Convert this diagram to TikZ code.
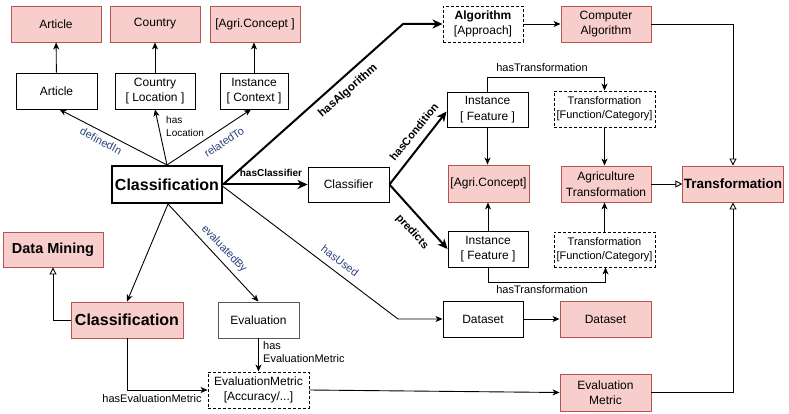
\documentclass[tikz,border=0pt]{standalone}
\usepackage{fontspec}
\setmainfont{Liberation Sans}
\usetikzlibrary{arrows.meta}
\definecolor{rfill}{HTML}{F8CECC}
\definecolor{rdraw}{HTML}{B85450}
\definecolor{lblue}{RGB}{45,65,125}
\begin{document}
\begin{tikzpicture}[x=1pt,y=-1pt,
 box/.style={draw=black, line width=0.9pt, inner sep=1pt, align=center, font=\fontsize{12}{15.5}\selectfont},
 wbox/.style={box, fill=white},
 rbox/.style={box, fill=rfill, draw=rdraw},
 dbox/.style={box, fill=white, dash pattern=on 3pt off 2pt},
 sz/.style 2 args={minimum width=#1pt, minimum height=#2pt},
 conn/.style={draw, line width=0.9pt, -{Stealth[length=7pt,width=6pt,inset=2pt]}},
 thk/.style={draw, line width=2pt, -{Stealth[length=10pt,width=9pt,inset=3pt]}},
 gen/.style={draw, line width=0.9pt, -{Triangle[open,length=7pt,width=7pt]}},
 plain/.style={draw, line width=0.9pt},
 blbl/.style={text=lblue, font=\fontsize{11}{13}\selectfont, inner sep=0pt},
 klbl/.style={font=\fontsize{11}{13}\selectfont, inner sep=0pt},
]
\fill[white] (0,0) rectangle (789,414);
\useasboundingbox (0,0) rectangle (789,414);

% top red row
\node[rbox, sz={90}{36}] (rArt) at (56,24) {Article};
\node[rbox, sz={90}{36}] (rCty) at (155,24) {Country};
\node[rbox, sz={90}{36}] (rAgC) at (255,24) {[Agri.Concept ]};
% white row
\node[wbox, sz={81}{36}] (wArt) at (56.5,91) {Article};
\node[wbox, sz={80}{36}] (wCty) at (155,91) {Country\\{}[ Location ]};
\node[wbox, sz={68}{36}] (wIns) at (254,91) {Instance\\{}[ Context ]};
% classification
\node[wbox, sz={110}{37}, line width=2pt, font=\fontsize{16}{18}\selectfont\bfseries] (cls) at (167,184.5) {Classification};
\node[rbox, sz={100}{35}, font=\fontsize{14.5}{17}\selectfont\bfseries] (dm) at (53,249.5) {Data Mining};
\node[rbox, sz={112}{36}, font=\fontsize{16}{18}\selectfont\bfseries] (rCls) at (127,320) {Classification};
\node[wbox, sz={81}{36}, draw=black!65] (eval) at (258.5,320) {Evaluation};
\node[dbox, sz={101}{36}] (em) at (258.5,390) {EvaluationMetric\\{}[Accuracy/...]};
\node[wbox, sz={81}{35}] (clf) at (348.5,184.5) {Classifier};
% middle column
\node[dbox, sz={80}{36}] (alg) at (483,24) {\textbf{Algorithm}\\{}[Approach]};
\node[wbox, sz={81}{35}] (insT) at (487.5,109.5) {Instance\\{}[ Feature ]};
\node[rbox, sz={81}{37}] (agc) at (488.5,183.5) {[Agri.Concept]};
\node[wbox, sz={80}{36}] (insB) at (488,249) {Instance\\{}[ Feature ]};
\node[wbox, sz={80}{36}] (ds) at (483,319) {Dataset};
% right columns
\node[rbox, sz={90}{36}] (cAlg) at (606,24) {Computer\\Algorithm};
\node[dbox, sz={101}{36}, font=\fontsize{11}{14}\selectfont] (trT) at (604.5,109) {Transformation\\{}[Function/Category]};
\node[rbox, sz={90}{36}] (agT) at (606,184) {Agriculture\\Transformation};
\node[dbox, sz={101}{35}, font=\fontsize{11}{14}\selectfont] (trB) at (604.5,249.5) {Transformation\\{}[Function/Category]};
\node[rbox, sz={91}{36}] (rds) at (605.5,319) {Dataset};
\node[rbox, sz={91}{37}] (evm) at (605.5,392.5) {Evaluation\\Metric};
\node[rbox, sz={100}{36}, font=\fontsize{13.5}{16}\selectfont\bfseries] (trf) at (733,184) {Transformation};

% coordinates for bends
\coordinate (c1) at (403,24);
\coordinate (c2) at (398,319);

% connectors
\path[conn] (wArt) -- (rArt);
\path[conn] (wCty) -- (rCty);
\path[conn] (wIns.north) -- (wIns.north |- rAgC.south);
\path[conn] (cls.north) -- ([xshift=3pt]wArt.south);
\path[conn] (cls.north) -- (wCty.south);
\path[conn] (cls.north) -- ([xshift=-3pt]wIns.south);
\path[thk] (cls.east) -- (c1) -- (alg.west);
\path[thk] (cls.east) -- (clf.west);
\path[conn] ([yshift=-2pt]cls.east) -- (c2) -- (ds.west);
\path[conn] ([xshift=1pt]cls.south) -- (rCls.north);
\path[conn] ([xshift=1pt]cls.south) -- (eval.north);
\path[thk] (clf.east) -- ([yshift=-2pt]insT.west);
\path[thk] (clf.east) -- (insB.west);
\path[conn] (insT.south) -- (insT.south |- agc.north);
\path[conn] (insB.north) -- (insB.north |- agc.south);
\path[conn] (insT.north) -- ++(0,-14.5) -| (trT.north);
\path[conn] (insB.south) -- ++(0,15) -| ([xshift=1pt]trB.south);
\path[conn] (trT.south) -- (trT.south |- agT.north);
\path[conn] (trB.north) -- (trB.north |- agT.south);
\path[gen] (agT.east) -- (trf.west);
\path[gen] (cAlg.east) -| (trf.north);
\path[gen] (evm.east) -| (trf.south);
\path[conn] (alg.east) -- (cAlg.west);
\path[conn] (ds.east) -- (rds.west);
\path[conn] (em.east) -- (evm.west);
\path[gen] (rCls.west) -| (dm.south);
\path[conn] (rCls.south) |- (em.west);
\path[conn] (eval.south) -- (em.north);

% labels
\node[blbl, rotate=-27.6] (l1) at (101,141) {definedIn};
\node[blbl, rotate=33.4] (l2) at (224,142) {relatedTo};
\node[klbl, anchor=north west, align=left, font=\fontsize{10}{13}\selectfont] (l3) at (166,116) {has\\Location};
\node[klbl, rotate=41.5, font=\fontsize{11.5}{13}\selectfont\bfseries] (l4) at (348,91) {hasAlgorithm};
\node[klbl, font=\fontsize{10}{12}\selectfont\bfseries] (l5) at (271,173) {hasClassifier};
\node[blbl, rotate=-37.3] (l6) at (340,261) {hasUsed};
\node[blbl, rotate=-46.5] (l7) at (224,249) {evaluatedBy};
\node[klbl, rotate=51, font=\fontsize{11}{13}\selectfont\bfseries] (l8) at (414,132) {hasCondition};
\node[klbl, rotate=-47.8, font=\fontsize{11}{13}\selectfont\bfseries] (l9) at (412,232) {predicts};
\node[klbl] (l10) at (542,68) {hasTransformation};
\node[klbl] (l11) at (542,290) {hasTransformation};
\node[klbl, anchor=west, align=left] (l12) at (263,352) {has\\EvaluationMetric};
\node[klbl] (l13) at (152,399) {hasEvaluationMetric};
\end{tikzpicture}
\end{document}
